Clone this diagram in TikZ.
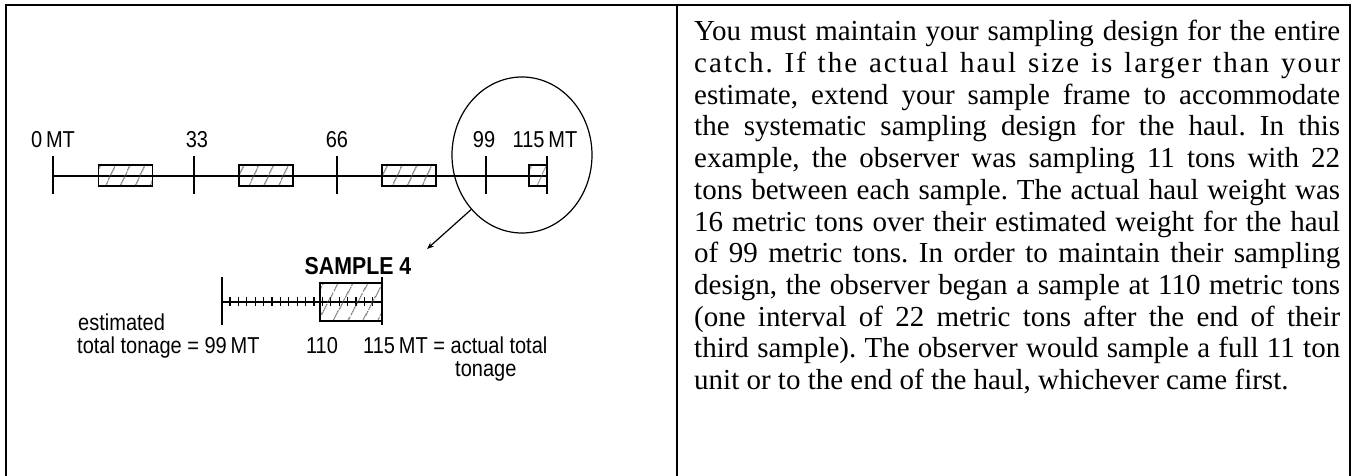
\documentclass[tikz,border=0pt]{standalone}
\usepackage{fontspec}
\setmainfont{Liberation Serif}
\newfontfamily\labfont[FakeStretch=0.87]{Liberation Sans}
\usetikzlibrary{patterns.meta,arrows.meta,shapes.geometric}
\frenchspacing
\begin{document}
\begin{tikzpicture}[x=1pt,y=1pt,
  frameline/.style={line width=2pt},
  axisline/.style={line width=1.6pt},
  lowline/.style={line width=2.2pt},
  minortick/.style={line width=1.3pt},
  hbox/.style={draw, line width=1.5pt, inner sep=0, minimum height=21pt,
    pattern={Lines[angle=65,distance=13pt,line width=0.8pt]}, pattern color=black!75},
  lab/.style={font=\labfont\fontsize{23}{26}\selectfont, inner sep=0},
  tl/.style={anchor=base west, inner sep=0, font=\fontsize{29}{31.7}\selectfont}
]
\useasboundingbox (0,0) rectangle (1353,-476);
\fill[white] (0,0) rectangle (1353,-476);

% frame
\draw[frameline] (5.7,-480) -- (5.7,-5) -- (1350,-5) -- (1350,-480);
\draw[frameline] (676.7,-5) -- (676.7,-480);

% top axis
\coordinate (a0) at (53,-176);
\coordinate (a33) at (194,-176);
\coordinate (a66) at (337,-176);
\coordinate (a99) at (486,-176);
\coordinate (aend) at (547,-176);
\draw[axisline] (a0) -- (aend);
\foreach \c in {a0,a33,a66,a99,aend}
  \draw[axisline] ([yshift=20pt]\c) -- ([yshift=-18pt]\c);

\node[hbox, minimum width=54pt] (b1) at (125.5,-175.5) {};
\node[hbox, minimum width=54pt] (b2) at (266,-175.5) {};
\node[hbox, minimum width=54pt] (b3) at (409,-175.5) {};
\node[hbox, minimum width=18pt] (b4) at (538,-175.5) {};

\node[lab, anchor=base] (l0) at (53,-148) {0\,MT};
\node[lab, anchor=base] (l33) at (197,-148) {33};
\node[lab, anchor=base] (l66) at (337,-148) {66};
\node[lab, anchor=base] (l99) at (484,-148) {99};
\node[lab, anchor=base] (l115) at (545,-148) {115\,MT};

% magnifier
\node[draw, ellipse, line width=1.2pt, inner sep=0, minimum width=140pt, minimum height=156pt] (mag) at (522,-155) {};
\coordinate (tip) at (427,-249);
\draw[line width=1.2pt, -{Stealth[length=7pt,width=5.5pt]}] (mag.227) -- (tip);

\node[font=\labfont\bfseries\fontsize{24.5}{28}\selectfont, anchor=base, inner sep=0] (s4) at (358,-274) {SAMPLE 4};

% lower axis
\coordinate (c0) at (222,-302);
\coordinate (c1) at (382,-302);
\draw[lowline] (c0) -- (c1);
\foreach \c in {c0,c1}
  \draw[lowline] ([yshift=25pt]\c) -- ([yshift=-23pt]\c);
\foreach \i in {0,...,17}
  \draw[minortick] ({230+\i*8.4},-297) -- ++(0,-9);
\node[hbox, line width=2.2pt, minimum width=62pt, minimum height=38pt,
  pattern={Lines[angle=62,distance=13pt,line width=0.8pt]}] (b5) at (351,-302) {};

\node[lab, anchor=base west] (est) at (78,-330) {estimated};
\node[lab, anchor=base west] (tot) at (77,-353) {total tonage = 99\,MT};
\node[lab, anchor=base] (l110) at (322,-353) {110};
\node[lab, anchor=base west] (act) at (363,-353) {115\,MT = actual total};
\node[lab, anchor=base west] (ton) at (455,-376) {tonage};

% text column
\node[tl] (t1) at (694,-41) {\makebox[646pt][s]{You must maintain your sampling design for the entire}};
\node[tl] (t2) at (694,-72.7) {\makebox[646pt][s]{\addfontfeature{LetterSpace=7}catch. If the actual haul size is larger than your}};
\node[tl] (t3) at (694,-104.3) {\makebox[646pt][s]{estimate, extend your sample frame to accommodate}};
\node[tl] (t4) at (694,-136) {\makebox[646pt][s]{the systematic sampling design for the haul. In this}};
\node[tl] (t5) at (694,-167.7) {\makebox[646pt][s]{example, the observer was sampling 11 tons with 22}};
\node[tl] (t6) at (694,-199.3) {\makebox[646pt][s]{tons between each sample. The actual haul weight was}};
\node[tl] (t7) at (694,-231) {\makebox[646pt][s]{16 metric tons over their estimated weight for the haul}};
\node[tl] (t8) at (694,-262.7) {\makebox[646pt][s]{of 99 metric tons. In order to maintain their sampling}};
\node[tl] (t9) at (694,-294.3) {\makebox[646pt][s]{design, the observer began a sample at 110 metric tons}};
\node[tl] (t10) at (694,-326) {\makebox[646pt][s]{(one interval of 22 metric tons after the end of their}};
\node[tl] (t11) at (694,-357.7) {\makebox[646pt][s]{third sample). The observer would sample a full 11 ton}};
\node[tl] (t12) at (694,-389.3) {unit or to the end of the haul, whichever came first.};
\end{tikzpicture}
\end{document}
